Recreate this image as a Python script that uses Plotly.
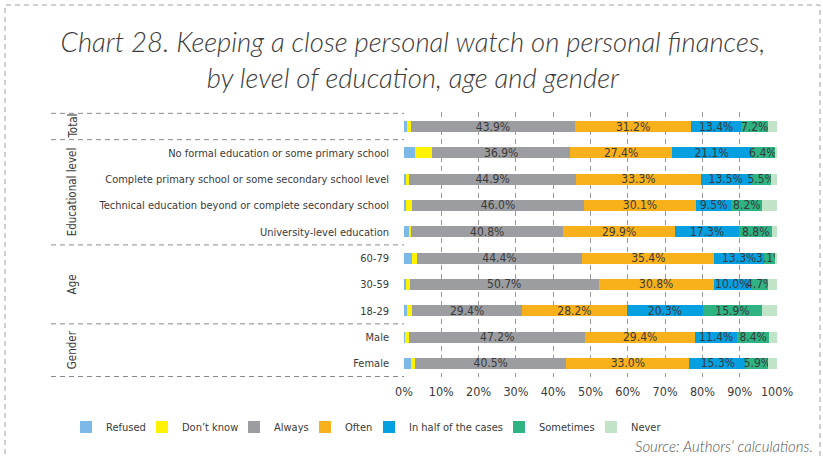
import plotly.graph_objects as go

# Row categories, top to bottom
rows = [
    "Total",
    "No formal education or some primary school",
    "Complete primary school or some secondary school level",
    "Technical education beyond or complete secondary school",
    "University-level education",
    "60-79",
    "30-59",
    "18-29",
    "Male",
    "Female",
]
row_labels = [""] + rows[1:]

# Answer shares (%) per row
refused    = [0.8, 3.0, 0.5, 0.6, 1.5, 2.2, 0.6, 0.8, 0.2, 1.8]
dont_know  = [1.1, 4.6, 0.8, 1.6, 0.4, 1.2, 0.9, 1.4, 1.2, 1.2]
always     = [43.9, 36.9, 44.9, 46.0, 40.8, 44.4, 50.7, 29.4, 47.2, 40.5]
often      = [31.2, 27.4, 33.3, 30.1, 29.9, 35.4, 30.8, 28.2, 29.4, 33.0]
half_cases = [13.4, 21.1, 13.5, 9.5, 17.3, 13.3, 10.0, 20.3, 11.4, 15.3]
sometimes  = [7.2, 6.4, 5.5, 8.2, 8.8, 3.1, 4.7, 15.9, 8.4, 5.9]
never      = [2.4, 0.6, 1.5, 4.0, 1.3, 0.4, 2.3, 4.0, 2.2, 2.3]

series_names = ["Refused", "Don\u2019t know", "Always", "Often",
                "In half of the cases", "Sometimes", "Never"]
series_values = [refused, dont_know, always, often, half_cases, sometimes, never]
series_colors = ["#7db9e8", "#fff200", "#9c9da1", "#f9b11b",
                 "#069fe0", "#2fb383", "#c1e4c9"]
series_labelled = [False, False, True, True, True, True, False]

# Group labels drawn on the left: (text, centre row index)
groups = [("Total", 0), ("Educational level", 2.5), ("Age", 6), ("Gender", 8.5)]
group_breaks = [-0.5, 0.5, 4.5, 7.5, 9.5]

x_ticks = list(range(0, 101, 10))
x_ticktext = [f"{v}%" for v in x_ticks]

NARROW = "DejaVu Sans Condensed, Liberation Sans Narrow, sans-serif"
LIGHT_IT = "Lato, Open Sans, sans-serif"
TXT = "#3a3a3a"

W, H = 823, 458
L, R, T, B = 404, 46, 112, 81
PW, PH = W - L - R, H - T - B

# left edge (px) of each legend entry, one legend box per series
LEGEND_LEFT = [66, 142, 234, 305, 369, 499, 591]


def px_x(px):
    return (px - L) / PW


fig = go.Figure()

for i, (name, vals, col, lab) in enumerate(
        zip(series_names, series_values, series_colors, series_labelled)):
    lg = "legend" if i == 0 else f"legend{i + 1}"
    fig.add_trace(go.Bar(
        name=name, y=rows, x=vals, orientation="h",
        marker=dict(color=col, line=dict(width=0)),
        text=[f"{v:.1f}%" for v in vals] if lab else None,
        textposition="inside" if lab else "none",
        insidetextanchor="middle",
        textangle=0,
        textfont=dict(family=NARROW, size=12, color=TXT),
        legend=lg,
        hoverinfo="skip",
    ))
    fig.update_layout({lg: dict(
        orientation="h", xref="container", yref="container",
        x=LEGEND_LEFT[i] / W, xanchor="left",
        y=1 - 427 / H, yanchor="middle",
        font=dict(family=NARROW, size=11, color=TXT),
        itemwidth=30, bgcolor="rgba(0,0,0,0)",
        itemclick=False, itemdoubleclick=False,
    )})

shapes = []
# dashed separators between row groups
for yb in group_breaks:
    shapes.append(dict(type="line", xref="paper", yref="y",
                       x0=px_x(51), x1=0, y0=yb, y1=yb,
                       line=dict(color="#8a8a8a", width=1, dash="5px,4px")))
# dashed frame around the whole graphic
shapes.append(dict(type="rect", xref="paper", yref="paper",
                   x0=px_x(5), x1=px_x(820),
                   y0=-(H - T - PH + 20) / PH, y1=1 + (T - 5) / PH,
                   line=dict(color="#a0a0a0", width=1, dash="5px,4px"),
                   fillcolor="rgba(0,0,0,0)", layer="below"))

annotations = []
for text, yc in groups:
    annotations.append(dict(text=text, xref="paper", yref="y",
                            x=px_x(72), y=yc, textangle=-90, showarrow=False,
                            xanchor="center", yanchor="middle",
                            font=dict(family=NARROW, size=11.5, color=TXT)))
annotations.append(dict(text="Source: Authors\u2019 calculations.",
                        xref="paper", yref="paper",
                        x=px_x(815), y=-(446 - T - PH) / PH,
                        xanchor="right", yanchor="middle", showarrow=False,
                        font=dict(family=LIGHT_IT, size=15, color="#555555",
                                  style="italic", weight=300)))

fig.update_layout(
    width=W, height=H,
    margin=dict(l=L, r=R, t=T, b=B, pad=0, autoexpand=False),
    barmode="stack", bargap=0.58,
    paper_bgcolor="white", plot_bgcolor="white",
    title=dict(
        text="Chart 28. Keeping a close personal watch on personal finances,<br>"
             "by level of education, age and gender",
        x=413 / W, xanchor="center", xref="container",
        y=1 - 52 / H, yanchor="top", yref="container",
        font=dict(family=LIGHT_IT, size=27.5, color="#3c3c3c",
                  style="italic", weight=300),
    ),
    shapes=shapes, annotations=annotations,
    uniformtext=dict(minsize=12, mode="show"),
    showlegend=True,
)

fig.update_xaxes(
    range=[0, 100], tickvals=x_ticks, ticktext=x_ticktext,
    showgrid=True, gridcolor="#9a9a9a", gridwidth=1, griddash="5px,4px",
    zeroline=False, showline=False, ticks="",
    tickfont=dict(family=NARROW, size=12.5, color=TXT),
    ticklabelstandoff=5, fixedrange=True,
)
fig.update_yaxes(
    categoryorder="array", categoryarray=rows, autorange="reversed",
    tickvals=rows, ticktext=row_labels,
    showgrid=False, zeroline=False, showline=False, ticks="",
    tickfont=dict(family=NARROW, size=11, color=TXT),
    ticklabelstandoff=14, fixedrange=True,
)

fig.write_html("out.html")
